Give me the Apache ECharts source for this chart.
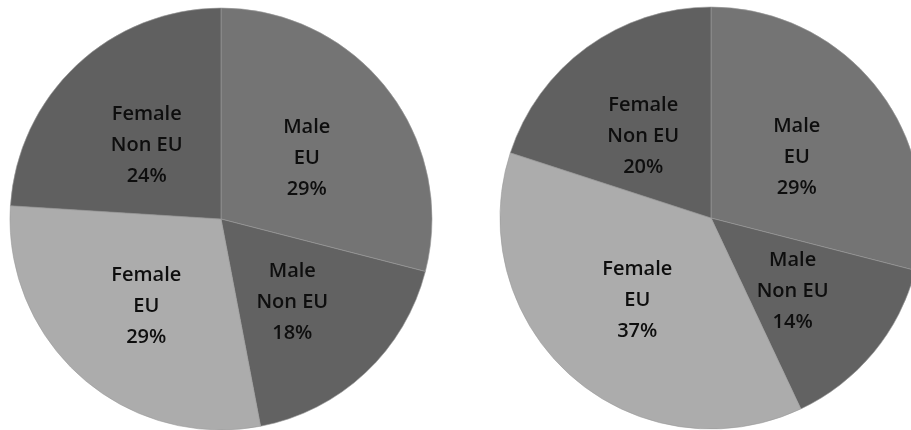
<!DOCTYPE html>
<html>
<head>
<meta charset="utf-8">
<script src="https://cdn.jsdelivr.net/npm/echarts@6/dist/echarts.min.js"></script>
<style>html,body{margin:0;padding:0;background:#fff;}#c{width:911px;height:430px;}</style>
</head>
<body>
<div id="c"></div>
<script>
const categories = ['Male\nEU', 'Male\nNon EU', 'Female\nEU', 'Female\nNon EU'];
const leftValues = [29, 18, 29, 24];
const rightValues = [29, 14, 37, 20];

const colors = ['#747474', '#626262', '#acacac', '#606060'];

function build(values, offsets) {
  return categories.map((name, i) => {
    const d = { name: name, value: values[i], itemStyle: { color: colors[i] } };
    if (offsets && offsets[i]) d.label = { offset: offsets[i] };
    return d;
  });
}

const labelStyle = {
  show: true,
  position: 'inside',
  formatter: p => p.name + '\n' + Math.round(p.percent) + '%',
  fontFamily: 'Open Sans',
  fontWeight: 600,
  fontSize: 20,
  lineHeight: 31,
  color: '#0e0e0e',
  align: 'center'
};

const chart = echarts.init(document.getElementById('c'), null, { renderer: 'canvas' });
chart.setOption({
  backgroundColor: '#ffffff',
  animation: false,
  series: [
    {
      type: 'pie',
      center: [221, 219],
      radius: [0, 211],
      startAngle: 90,
      clockwise: true,
      label: labelStyle,
      labelLine: { show: false },
      itemStyle: { borderColor: '#9a9a9a', borderWidth: 0.6 },
      emphasis: { disabled: true },
      data: build(leftValues, [[0, 6], [-3, 4], [-3, 6], [0, 5]])
    },
    {
      type: 'pie',
      center: [711, 218],
      radius: [0, 211],
      startAngle: 90,
      clockwise: true,
      label: labelStyle,
      labelLine: { show: false },
      itemStyle: { borderColor: '#9a9a9a', borderWidth: 0.6 },
      emphasis: { disabled: true },
      data: build(rightValues, [[0, 6], [-2, 4], [-2, 1], [-4, 6]])
    }
  ]
});
</script>
</body>
</html>
